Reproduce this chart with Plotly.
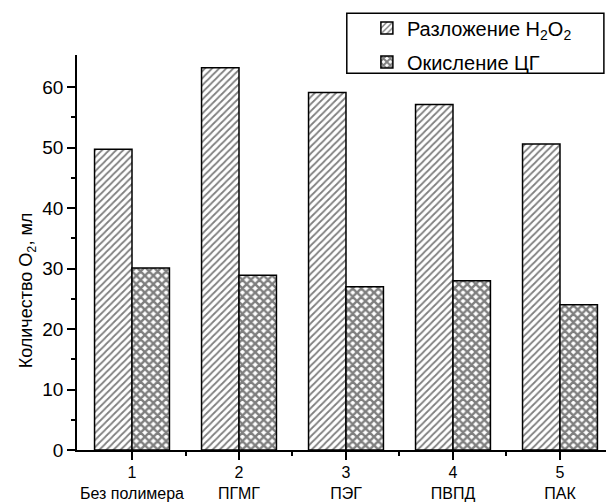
import plotly.graph_objects as go

# Samples (x positions 1..5) and their tick labels
positions = [1, 2, 3, 4, 5]
sample_names = ["Без полимера", "ПГМГ", "ПЭГ", "ПВПД", "ПАК"]
tick_text = [f"{p}<br>{n}" for p, n in zip(positions, sample_names)]

# Volume of O2, ml
decomposition_h2o2 = [49.7, 63.2, 59.1, 57.1, 50.6]
oxidation_cg = [30.1, 28.9, 27.0, 28.0, 24.0]

FONT = "Liberation Sans, Arial, sans-serif"

fig = go.Figure()
fig.add_trace(go.Bar(
    x=positions, y=decomposition_h2o2,
    name="Разложение H<sub>2</sub>O<sub>2</sub>", legendgroup="a",
    marker=dict(color="white", line=dict(color="black", width=1.5),
                pattern=dict(shape="/", fgcolor="black", bgcolor="white",
                             size=5, solidity=0.35)),
))
fig.add_trace(go.Bar(
    x=positions, y=oxidation_cg,
    name="Окисление ЦГ", legendgroup="b",
    marker=dict(color="white", line=dict(color="black", width=1.5),
                pattern=dict(shape="x", fgcolor="black", bgcolor="white",
                             size=6, solidity=0.65)),
))

fig.update_layout(
    width=606, height=502,
    margin=dict(l=77, r=0, t=55, b=52),
    paper_bgcolor="white", plot_bgcolor="white",
    barmode="group", bargap=0.3, bargroupgap=0,
    font=dict(family=FONT, size=16, color="black"),
    showlegend=True,
    legend=dict(
        x=0.548, y=1.118, xanchor="left", yanchor="top",
        borderwidth=0, bgcolor="rgba(0,0,0,0)",
        font=dict(family=FONT, size=20),
        traceorder="grouped", tracegroupgap=5,
    ),
    # legend frame
    shapes=[dict(type="rect", xref="paper", yref="paper",
                 x0=0.51, x1=0.996, y0=0.954, y1=1.106,
                 line=dict(color="black", width=1.5), fillcolor="rgba(0,0,0,0)",
                 layer="below")],
    annotations=[dict(
        text="Количество O<sub>2</sub>, мл", textangle=-90,
        xref="paper", yref="paper", x=-0.094, y=0.405,
        xanchor="center", yanchor="middle", showarrow=False,
        font=dict(family=FONT, size=18),
    )],
)

fig.update_xaxes(
    range=[0.486, 5.43], automargin=False,
    tickvals=positions, ticktext=tick_text,
    showline=True, linecolor="black", linewidth=1.5,
    ticks="outside", ticklen=8, tickwidth=1.5, tickcolor="black",
    minor=dict(tickvals=[1.5, 2.5, 3.5, 4.5], ticks="outside", ticklen=4,
               tickwidth=1.5, tickcolor="black"),
    showgrid=False, zeroline=False,
    tickfont=dict(family=FONT, size=16),
    ticklabelstandoff=-1,
)
fig.update_yaxes(
    range=[0, 65.3], automargin=False,
    tickvals=[0, 10, 20, 30, 40, 50, 60],
    showline=True, linecolor="black", linewidth=1.5,
    ticks="outside", ticklen=8, tickwidth=1.5, tickcolor="black",
    minor=dict(tickvals=[5, 15, 25, 35, 45, 55], ticks="outside", ticklen=4,
               tickwidth=1.5, tickcolor="black"),
    showgrid=False, zeroline=False,
    tickfont=dict(family=FONT, size=19),
)

fig.write_html("out.html")
